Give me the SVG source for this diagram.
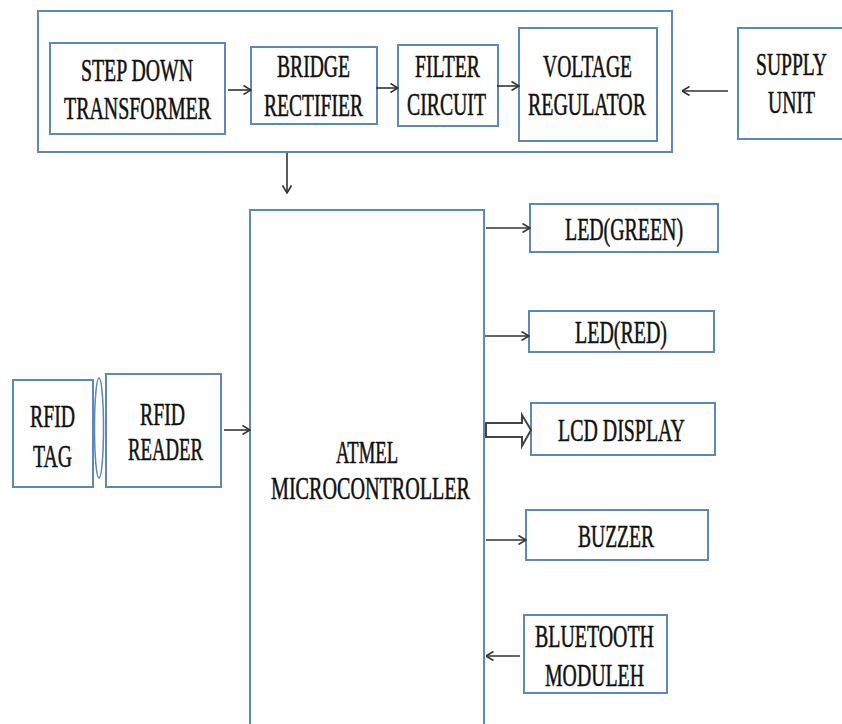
<svg xmlns="http://www.w3.org/2000/svg" width="842" height="724" viewBox="0 0 842 724">
<defs>
<style>
.box{fill:#fff;stroke:#5f87ba;stroke-width:2}
text{font-family:'Liberation Serif','Times New Roman',serif;font-size:31px;fill:#111;stroke:#111;stroke-width:0.55}
.c{fill:none;stroke:#333;stroke-width:1.6}
</style>
<marker id="ah" viewBox="0 0 10 10" refX="9.5" refY="5" markerWidth="10" markerHeight="10" markerUnits="userSpaceOnUse" orient="auto">
<path d="M2,0.5 L9.5,5 L2,9.5" fill="none" stroke="#333" stroke-width="1.6"/>
</marker>
</defs>
<rect width="842" height="724" fill="#fff"/>
<g id="power-supply">
<rect class="box" x="38" y="11" width="634" height="141"/>
</g>
<g id="step-down">
<rect class="box" x="50" y="43" width="175" height="91"/>
<text x="81" y="81" textLength="112" lengthAdjust="spacingAndGlyphs">STEP DOWN</text>
<text x="64" y="119" textLength="147" lengthAdjust="spacingAndGlyphs">TRANSFORMER</text>
</g>
<g id="bridge">
<rect class="box" x="251" y="47" width="126" height="77"/>
<text x="277" y="77" textLength="73" lengthAdjust="spacingAndGlyphs">BRIDGE</text>
<text x="264" y="116" textLength="99" lengthAdjust="spacingAndGlyphs">RECTIFIER</text>
</g>
<g id="filter">
<rect class="box" x="398" y="45" width="100" height="81"/>
<text x="415" y="77" textLength="65" lengthAdjust="spacingAndGlyphs">FILTER</text>
<text x="407" y="115" textLength="79" lengthAdjust="spacingAndGlyphs">CIRCUIT</text>
</g>
<g id="voltage">
<rect class="box" x="519" y="28" width="138" height="113"/>
<text x="543" y="77" textLength="89" lengthAdjust="spacingAndGlyphs">VOLTAGE</text>
<text x="528" y="115" textLength="118" lengthAdjust="spacingAndGlyphs">REGULATOR</text>
</g>
<g id="supply">
<rect class="box" x="738" y="28" width="110" height="111"/>
<text x="756" y="75" textLength="71" lengthAdjust="spacingAndGlyphs">SUPPLY</text>
<text x="768" y="113" textLength="47" lengthAdjust="spacingAndGlyphs">UNIT</text>
</g>
<g id="micro">
<rect class="box" x="250" y="210" width="234" height="530"/>
<text x="336" y="463" textLength="62" lengthAdjust="spacingAndGlyphs">ATMEL</text>
<text x="271" y="499" textLength="199" lengthAdjust="spacingAndGlyphs">MICROCONTROLLER</text>
</g>
<g id="rfid-tag">
<rect class="box" x="13" y="380" width="80" height="107"/>
<text x="30" y="427" textLength="45" lengthAdjust="spacingAndGlyphs">RFID</text>
<text x="33" y="467" textLength="39" lengthAdjust="spacingAndGlyphs">TAG</text>
</g>
<g id="rfid-coupling">
<ellipse cx="99" cy="428" rx="4.5" ry="50" fill="none" stroke="#5f87ba" stroke-width="1.5"/>
</g>
<g id="rfid-reader">
<rect class="box" x="106" y="374" width="115" height="113"/>
<text x="140" y="425" textLength="45" lengthAdjust="spacingAndGlyphs">RFID</text>
<text x="128" y="460" textLength="75" lengthAdjust="spacingAndGlyphs">READER</text>
</g>
<g id="led-green">
<rect class="box" x="530" y="204" width="188" height="48"/>
<text x="565" y="240" textLength="118" lengthAdjust="spacingAndGlyphs">LED(GREEN)</text>
</g>
<g id="led-red">
<rect class="box" x="529" y="311" width="185" height="41"/>
<text x="575" y="343" textLength="92" lengthAdjust="spacingAndGlyphs">LED(RED)</text>
</g>
<g id="lcd">
<rect class="box" x="531" y="403" width="184" height="52"/>
<text x="558" y="441" textLength="127" lengthAdjust="spacingAndGlyphs">LCD DISPLAY</text>
</g>
<g id="buzzer">
<rect class="box" x="526" y="510" width="182" height="50"/>
<text x="578" y="547" textLength="76" lengthAdjust="spacingAndGlyphs">BUZZER</text>
</g>
<g id="bluetooth">
<rect class="box" x="524" y="615" width="143" height="78"/>
<text x="535" y="647" textLength="119" lengthAdjust="spacingAndGlyphs">BLUETOOTH</text>
<text x="545" y="686" textLength="99" lengthAdjust="spacingAndGlyphs">MODULEH</text>
</g>
<g id="connectors">
<line class="c" x1="228" y1="90" x2="251" y2="90" marker-end="url(#ah)"/>
<line class="c" x1="376" y1="88" x2="398" y2="88" marker-end="url(#ah)"/>
<line class="c" x1="497" y1="86" x2="519" y2="86" marker-end="url(#ah)"/>
<line class="c" x1="728" y1="91" x2="682" y2="91" marker-end="url(#ah)"/>
<line class="c" x1="287" y1="153" x2="287" y2="193" marker-end="url(#ah)"/>
<line class="c" x1="224" y1="430" x2="250" y2="430" marker-end="url(#ah)"/>
<line class="c" x1="486" y1="228" x2="530" y2="228" marker-end="url(#ah)"/>
<line class="c" x1="485" y1="336" x2="529" y2="336" marker-end="url(#ah)"/>
<line class="c" x1="486" y1="540" x2="526" y2="540" marker-end="url(#ah)"/>
<line class="c" x1="520" y1="656" x2="486" y2="656" marker-end="url(#ah)"/>
<path d="M486,423 L522,423 L522,415 L531,430 L522,446 L522,437 L486,437 Z" fill="#fff" stroke="#444" stroke-width="2" stroke-linejoin="miter"/>
</g>
</svg>
